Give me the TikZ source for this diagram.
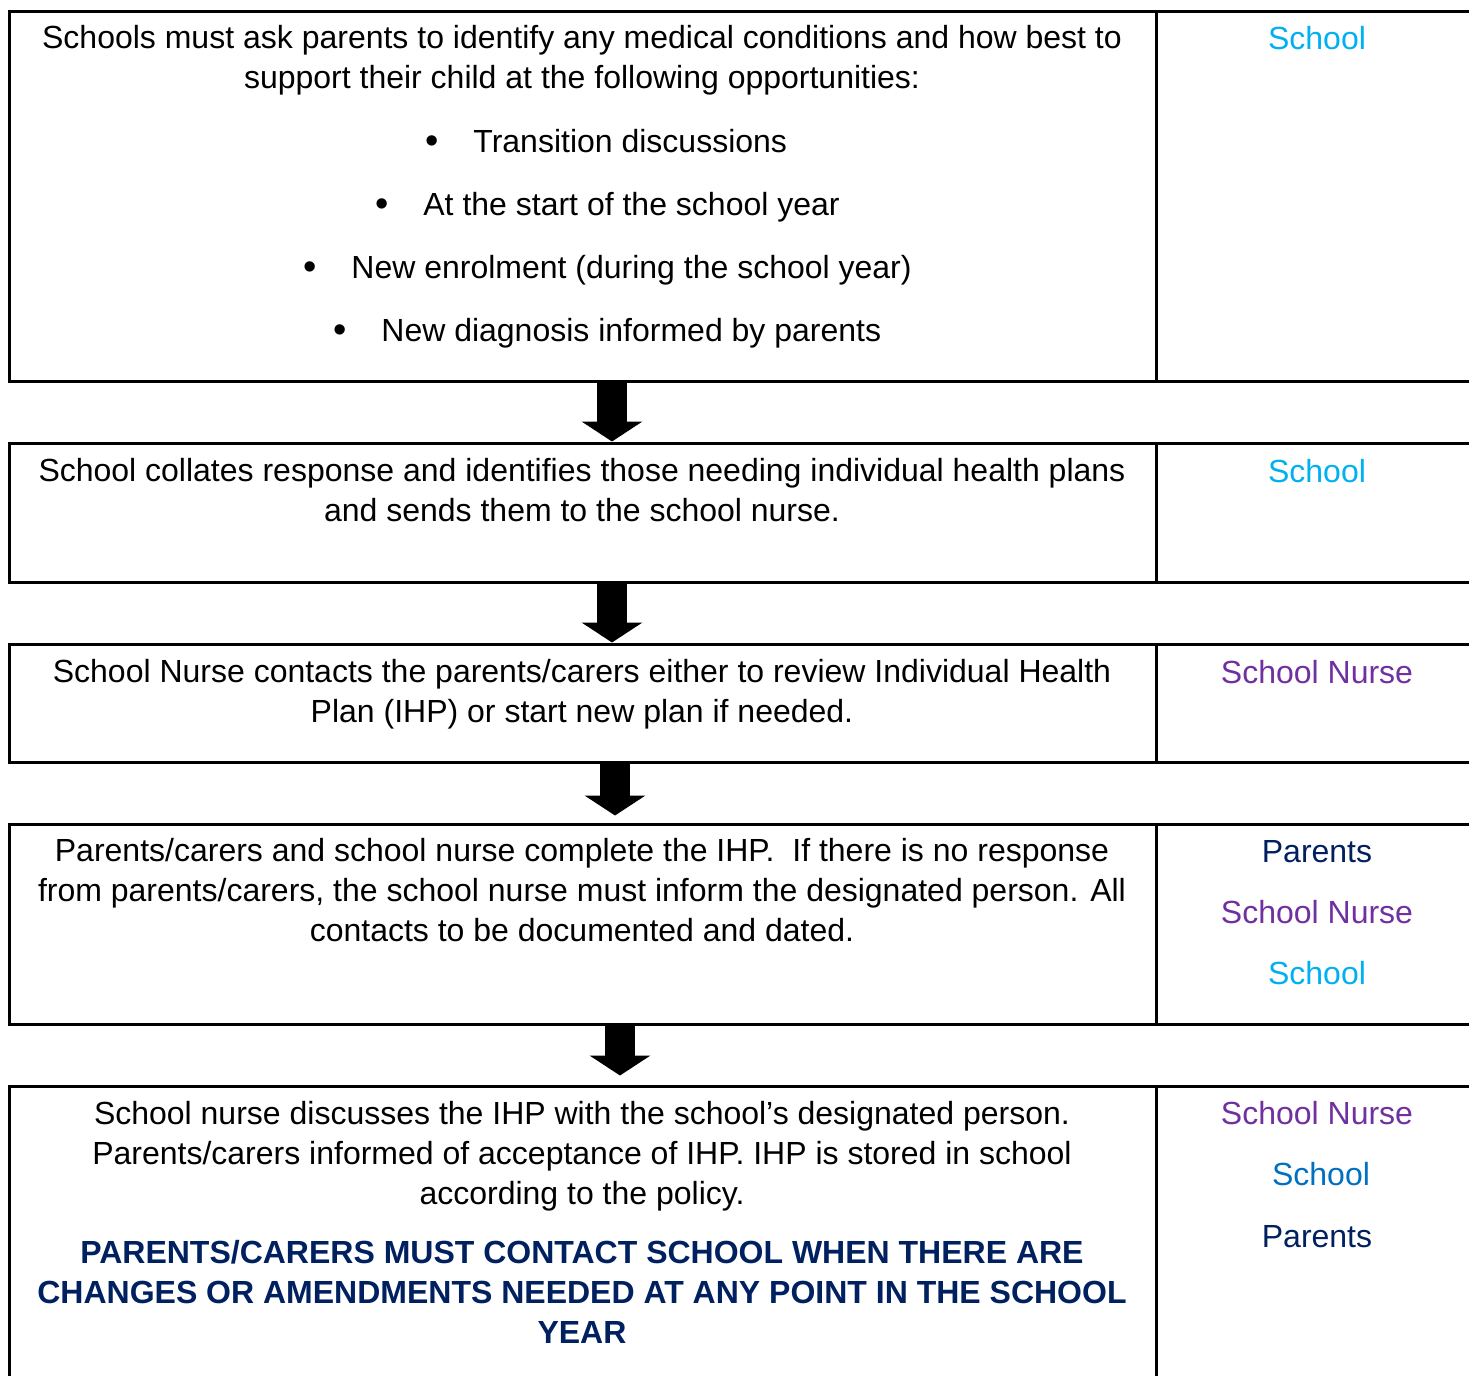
\documentclass[tikz,border=0pt]{standalone}
\usepackage{fontspec}
\setmainfont{Liberation Sans}
\usetikzlibrary{arrows.meta}
\definecolor{schoolblue}{HTML}{00B0F0}
\definecolor{schoolmid}{HTML}{0070C0}
\definecolor{nursepurple}{HTML}{7030A0}
\definecolor{navy}{HTML}{002060}
\tikzset{
  box/.style={draw, line width=1.5pt, inner sep=0pt, minimum width=735.5pt},
  txt/.style={inner sep=0pt, align=center, font=\fontsize{16}{20}\selectfont, anchor=base},
  lbl/.style={inner sep=0pt, font=\fontsize{16}{20}\selectfont, anchor=base},
  bul/.style={inner sep=0pt, font=\fontsize{19}{20}\selectfont, anchor=base},
  blockarrow/.style={line width=15pt, -{Triangle[width=30pt,length=10pt]}},
  divider/.style={line width=1.5pt}
}
\begin{document}
\begin{tikzpicture}[x=0.5pt,y=-0.5pt]
\clip (0,0) rectangle (1469,1376);
% boxes
\node[box, minimum height=185pt] (b1) at (744.5,196) {};
\node[box, minimum height=69.5pt] (b2) at (744.5,512.5) {};
\node[box, minimum height=59pt] (b3) at (744.5,703) {};
\node[box, minimum height=100pt] (b4) at (744.5,924) {};
\node[box, minimum height=157pt] (b5) at (744.5,1243) {};
% dividers
\draw[divider] (1156,11) -- (1156,381);
\draw[divider] (1156,443) -- (1156,582);
\draw[divider] (1156,644) -- (1156,762);
\draw[divider] (1156,824) -- (1156,1024);
\draw[divider] (1156,1086) -- (1156,1400);
% arrows
\coordinate (a1) at (612,0);
\coordinate (a2) at (612,0);
\coordinate (a3) at (615,0);
\coordinate (a4) at (620,0);
\draw[blockarrow] (b1.south -| a1) -- (b2.north -| a1);
\draw[blockarrow] (b2.south -| a2) -- (b3.north -| a2);
\draw[blockarrow, shorten >=3.5pt] (b3.south -| a3) -- (b4.north -| a3);
\draw[blockarrow, shorten >=4.5pt] (b4.south -| a4) -- (b5.north -| a4);
% box 1 text (base anchor = last line)
\node[txt] (t1) at (582,88) {Schools must ask parents to identify any medical conditions and how best to\\support their child at the following opportunities:};
\node[bul] (p1) at (432,153) {•};
\node[lbl, anchor=base west] (i1) at (473,152) {Transition discussions};
\node[bul] (p2) at (382,216) {•};
\node[lbl, anchor=base west] (i2) at (423,215) {At the start of the school year};
\node[bul] (p3) at (310,279) {•};
\node[lbl, anchor=base west] (i3) at (351,278) {New enrolment (during the school year)};
\node[bul] (p4) at (340,342) {•};
\node[lbl, anchor=base west] (i4) at (381,341) {New diagnosis informed by parents};
\node[lbl, text=schoolblue] (r1) at (1317,49) {School};
% box 2
\node[txt] (t2) at (582,521) {School collates response and identifies those needing individual health plans\\and sends them to the school nurse.};
\node[lbl, text=schoolblue] (r2) at (1317,482) {School};
% box 3
\node[txt] (t3) at (582,722) {School Nurse contacts the parents/carers either to review Individual Health\\Plan (IHP) or start new plan if needed.};
\node[lbl, text=nursepurple] (r3) at (1317,683) {School Nurse};
% box 4
\node[txt] (t4) at (582,941) {Parents/carers and school nurse complete the IHP.\ \ If there is no response\\from parents/carers, the school nurse must inform the designated person. All\\contacts to be documented and dated.};
\node[lbl, text=navy] (r4a) at (1317,862) {Parents};
\node[lbl, text=nursepurple] (r4b) at (1317,923) {School Nurse};
\node[lbl, text=schoolblue] (r4c) at (1317,984) {School};
% box 5
\node[txt] (t5) at (582,1204) {School nurse discusses the IHP with the school’s designated person.\\Parents/carers informed of acceptance of IHP. IHP is stored in school\\according to the policy.};
\node[txt, text=navy, font=\fontsize{16}{20}\selectfont\bfseries] (t6) at (582,1343) {PARENTS/CARERS MUST CONTACT SCHOOL WHEN THERE ARE\\CHANGES OR AMENDMENTS NEEDED AT ANY POINT IN THE SCHOOL\\YEAR};
\node[lbl, text=nursepurple] (r5a) at (1317,1124) {School Nurse};
\node[lbl, text=schoolmid] (r5b) at (1321,1185) {School};
\node[lbl, text=navy] (r5c) at (1317,1247) {Parents};
\end{tikzpicture}
\end{document}
